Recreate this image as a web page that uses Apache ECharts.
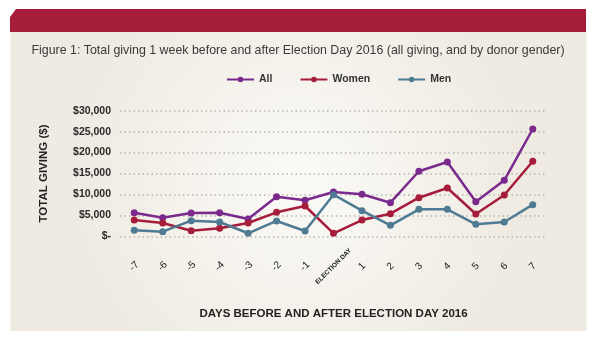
<!DOCTYPE html>
<html>
<head>
<meta charset="utf-8">
<script src="https://cdn.jsdelivr.net/npm/echarts@6/dist/echarts.min.js"></script>
<style>
  html, body { margin: 0; padding: 0; background: #ffffff; }
  #chart { width: 596px; height: 340px; }
</style>
</head>
<body>
<div id="chart"></div>
<script>
// Days relative to Election Day 2016
const days = ['-7', '-6', '-5', '-4', '-3', '-2', '-1', 'ELECTION DAY', '1', '2', '3', '4', '5', '6', '7'];

// Total giving per day, in dollars
const allGiving   = [5640, 4450, 5560, 5640, 4130, 9460, 8600, 10580, 10030, 8030, 15530, 17750, 8270, 13380, 25630];
const womenGiving = [3890, 3180, 1340, 1900, 3180, 5730, 7240, 710, 3890, 5400, 9220, 11540, 5330, 9870, 17920];
const menGiving   = [1430, 1100, 3730, 3420, 720, 3660, 1270, 9940, 6120, 2630, 6450, 6450, 2870, 3420, 7550];

const yTicks = [0, 5000, 10000, 15000, 20000, 25000, 30000];

const COLORS = { all: '#7a2a8c', women: '#a61d3b', men: '#4e7b93' };
const FONT = '"Liberation Sans", Arial, sans-serif';

function lineSeries(name, data, color) {
  return {
    name: name,
    type: 'line',
    data: data,
    symbol: 'circle',
    symbolSize: 7,
    lineStyle: { color: color, width: 2.5 },
    itemStyle: { color: color },
    emphasis: { disabled: true }
  };
}

const chart = echarts.init(document.getElementById('chart'), null, { renderer: 'canvas' });

chart.setOption({
  animation: false,
  backgroundColor: '#ffffff',
  graphic: [
    {
      type: 'rect', z: -10, silent: true,
      shape: { x: 10.5, y: 32, width: 576, height: 299 },
      style: {
        fill: {
          type: 'radial', x: 0.5, y: 0.5, r: 0.75,
          colorStops: [
            { offset: 0, color: '#fbfaf7' },
            { offset: 1, color: '#efebe2' }
          ]
        }
      }
    },
    {
      type: 'polygon', z: -9, silent: true,
      shape: { points: [[10, 17], [16, 9], [586, 9], [586, 32], [10, 32]] },
      style: { fill: '#a51d3a' }
    }
  ],
  title: {
    text: 'Figure 1: Total giving 1 week before and after Election Day 2016 (all giving, and by donor gender)',
    left: 'center',
    top: 40,
    textStyle: { fontFamily: FONT, fontSize: 12.4, fontWeight: 'normal', color: '#3a3a3a' }
  },
  legend: {
    top: 69,
    left: 221,
    itemWidth: 27,
    itemHeight: 7,
    itemGap: 27,
    textStyle: { fontFamily: FONT, fontSize: 10.5, fontWeight: 'bold', color: '#333' },
    data: ['All', 'Women', 'Men']
  },
  grid: { left: 120, right: 49, top: 110.7, bottom: 103.7, containLabel: false },
  xAxis: {
    type: 'category',
    data: days,
    boundaryGap: true,
    axisLine: { show: false },
    axisTick: { show: false },
    axisLabel: {
      interval: 0,
      rotate: 45,
      margin: 30,
      align: 'center',
      verticalAlign: 'middle',
      fontFamily: FONT,
      fontSize: 10,
      color: '#222',
      formatter: function (v) { return v === 'ELECTION DAY' ? '{e|' + v + '}' : v; },
      rich: {
        e: { fontFamily: FONT, fontSize: 6.5, fontWeight: 'bold', color: '#222' }
      }
    },
    name: 'DAYS BEFORE AND AFTER ELECTION DAY 2016',
    nameLocation: 'middle',
    nameGap: 72,
    nameTextStyle: { fontFamily: FONT, fontSize: 11.5, fontWeight: 'bold', color: '#222' }
  },
  yAxis: {
    type: 'value',
    min: yTicks[0],
    max: yTicks[yTicks.length - 1],
    interval: 5000,
    axisLine: { show: false },
    axisTick: { show: false },
    splitLine: { lineStyle: { color: '#b8b5ae', type: [1.5, 3], width: 1.5 } },
    axisLabel: {
      margin: 9,
      fontFamily: FONT,
      fontSize: 10.5,
      fontWeight: 'bold',
      color: '#2a2a2a',
      formatter: function (v) { return v === 0 ? '$-' : '$' + v.toLocaleString('en-US'); }
    },
    name: 'TOTAL GIVING ($)',
    nameLocation: 'middle',
    nameRotate: 90,
    nameGap: 70,
    nameTextStyle: { fontFamily: FONT, fontSize: 11.5, fontWeight: 'bold', color: '#222' }
  },
  series: [
    lineSeries('All', allGiving, COLORS.all),
    lineSeries('Women', womenGiving, COLORS.women),
    lineSeries('Men', menGiving, COLORS.men)
  ]
});
</script>
</body>
</html>
